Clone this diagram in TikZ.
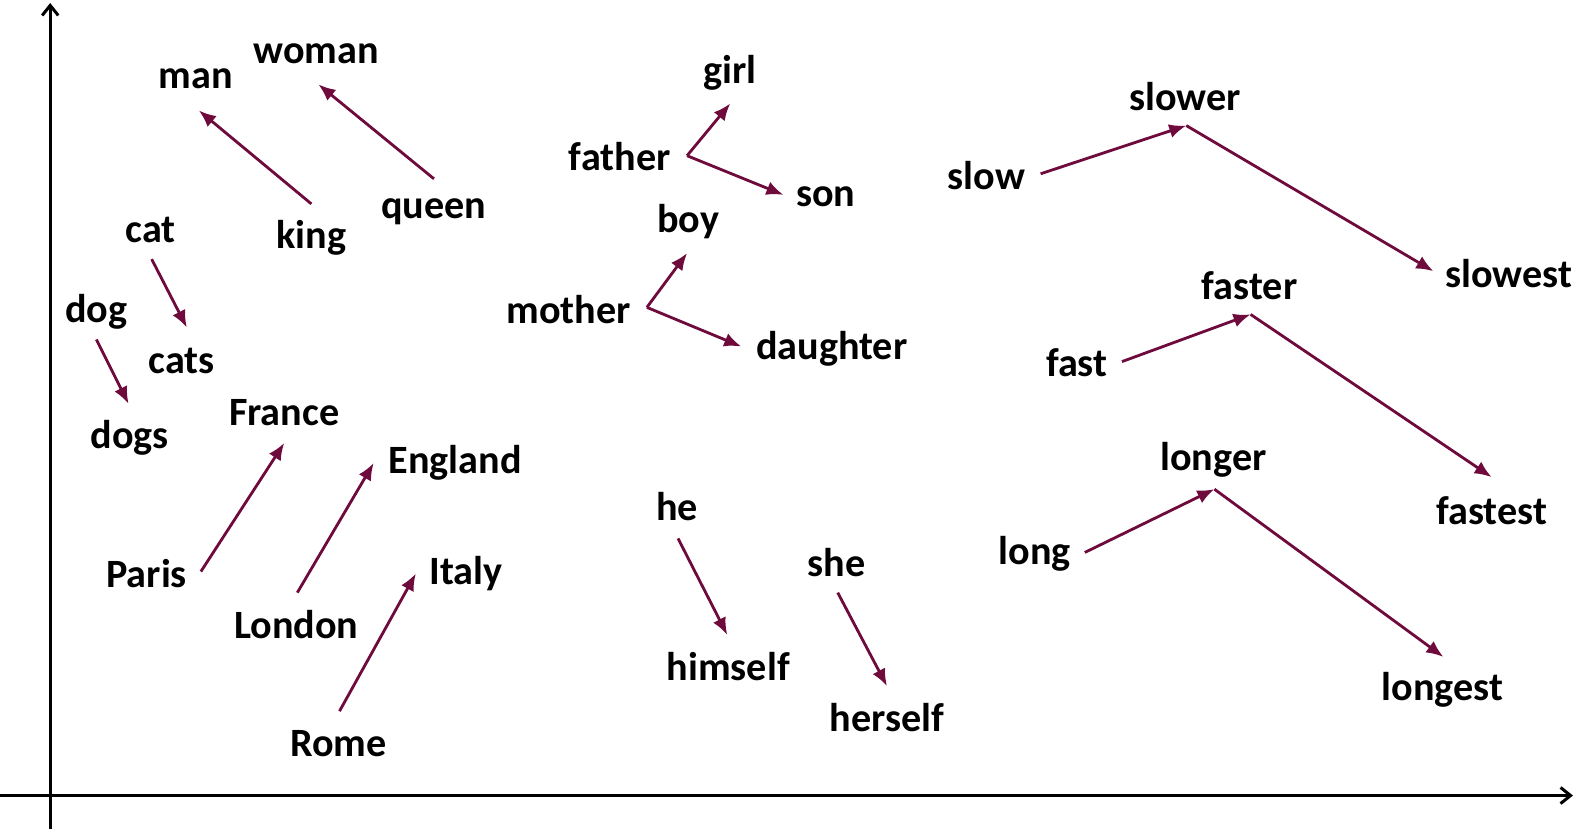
\documentclass[tikz,border=0pt]{standalone}
\usepackage{fontspec}
\setmainfont{Carlito}
\usetikzlibrary{arrows.meta}
\definecolor{wine}{RGB}{110,10,60}

\begin{document}
\begin{tikzpicture}[x=0.5pt, y=-0.5pt, font=\fontsize{20}{24}\selectfont\bfseries,
    vec/.style={wine, line width=1.4pt, -{Latex[length=8.5pt, width=7pt]}},
    axis/.style={black, line width=1.5pt, -{Straight Barb[length=5pt, width=8pt]}},
    word/.style={inner sep=0pt}]

\useasboundingbox (0,0) rectangle (1569,825);

% axes
\coordinate (ybot) at (50,825);
\coordinate (ytop) at (50,3);
\coordinate (xleft) at (0,792);
\coordinate (xright) at (1566,792);
\draw[axis] (ybot) -- (ytop);
\draw[axis] (xleft) -- (xright);

% gender
\node[word] (man) at (195,78) {man};
\node[word] (woman) at (315,53) {woman};
\node[word] (king) at (310,237) {king};
\node[word] (queen) at (432,211) {queen};

% plural
\node[word] (cat) at (150,229) {cat};
\node[word] (cats) at (181,359) {cats};
\node[word] (dog) at (96,310) {dog};
\node[word] (dogs) at (129,436) {dogs};

% capitals
\node[word] (france) at (283,411) {France};
\node[word] (england) at (453,461) {England};
\node[word] (italy) at (464,571) {Italy};
\node[word] (paris) at (146,571) {Paris};
\node[word] (london) at (295,622) {London};
\node[word] (rome) at (337,740) {Rome};

% family
\node[word] (girl) at (727,72) {girl};
\node[word] (father) at (617,156) {father};
\node[word] (son) at (822,196) {son};
\node[word] (boy) at (685,221) {boy};
\node[word] (mother) at (566,308) {mother};
\node[word] (daughter) at (828,347) {daughter};

% pronouns
\node[word] (he) at (674,504) {he};
\node[word] (himself) at (725,664) {himself};
\node[word] (she) at (833,560) {she};
\node[word] (herself) at (883,714) {herself};

% comparatives
\node[word] (slow) at (982,175) {slow};
\node[word] (slower) at (1180,96) {slower};
\node[word] (slowest) at (1502,272) {slowest};
\node[word] (fast) at (1072,361) {fast};
\node[word] (faster) at (1244,284) {faster};
\node[word] (fastest) at (1485,508) {fastest};
\node[word] (long) at (1030,551) {long};
\node[word] (longer) at (1208,458) {longer};
\node[word] (longest) at (1436,687) {longest};

\draw[vec] ([shift={(0,-34)}]king.center) -- ([shift={(3,32)}]man.center);
\draw[vec] ([shift={(0,-33)}]queen.center) -- ([shift={(2,31)}]woman.center);

\draw[vec] ([shift={(1,29)}]cat.center) -- ([shift={(5,-33)}]cats.center);
\draw[vec] ([shift={(0,28)}]dog.center) -- ([shift={(-1,-34)}]dogs.center);

\draw[vec] ([shift={(54,-2)}]paris.center) -- ([shift={(0,30)}]france.center);
\draw[vec] ([shift={(1,-32)}]london.center) -- ([shift={(-81,0)}]england.center);
\draw[vec] ([shift={(1,-32)}]rome.center) -- ([shift={(-50,0)}]italy.center);

\draw[vec] ([shift={(67,-1)}]father.center) -- ([shift={(0,31)}]girl.center);
\draw[vec] ([shift={(67,-1)}]father.center) -- ([shift={(-42,-2)}]son.center);
\draw[vec] ([shift={(78,-2)}]mother.center) -- ([shift={(-1,31)}]boy.center);
\draw[vec] ([shift={(78,-2)}]mother.center) -- ([shift={(-90,-2)}]daughter.center);

\draw[vec] ([shift={(1,32)}]he.center) -- ([shift={(-1,-32)}]himself.center);
\draw[vec] ([shift={(1,30)}]she.center) -- ([shift={(0,-31)}]herself.center);

\draw[vec] ([shift={(54,-2)}]slow.center) -- ([shift={(1,29)}]slower.center);
\draw[vec] ([shift={(1,29)}]slower.center) -- ([shift={(-75,-2)}]slowest.center);
\draw[vec] ([shift={(45,-1)}]fast.center) -- ([shift={(1,29)}]faster.center);
\draw[vec] ([shift={(1,29)}]faster.center) -- ([shift={(0,-33)}]fastest.center);
\draw[vec] ([shift={(50,-1)}]long.center) -- ([shift={(1,29)}]longer.center);
\draw[vec] ([shift={(1,29)}]longer.center) -- ([shift={(1,-33)}]longest.center);

\end{tikzpicture}
\end{document}
